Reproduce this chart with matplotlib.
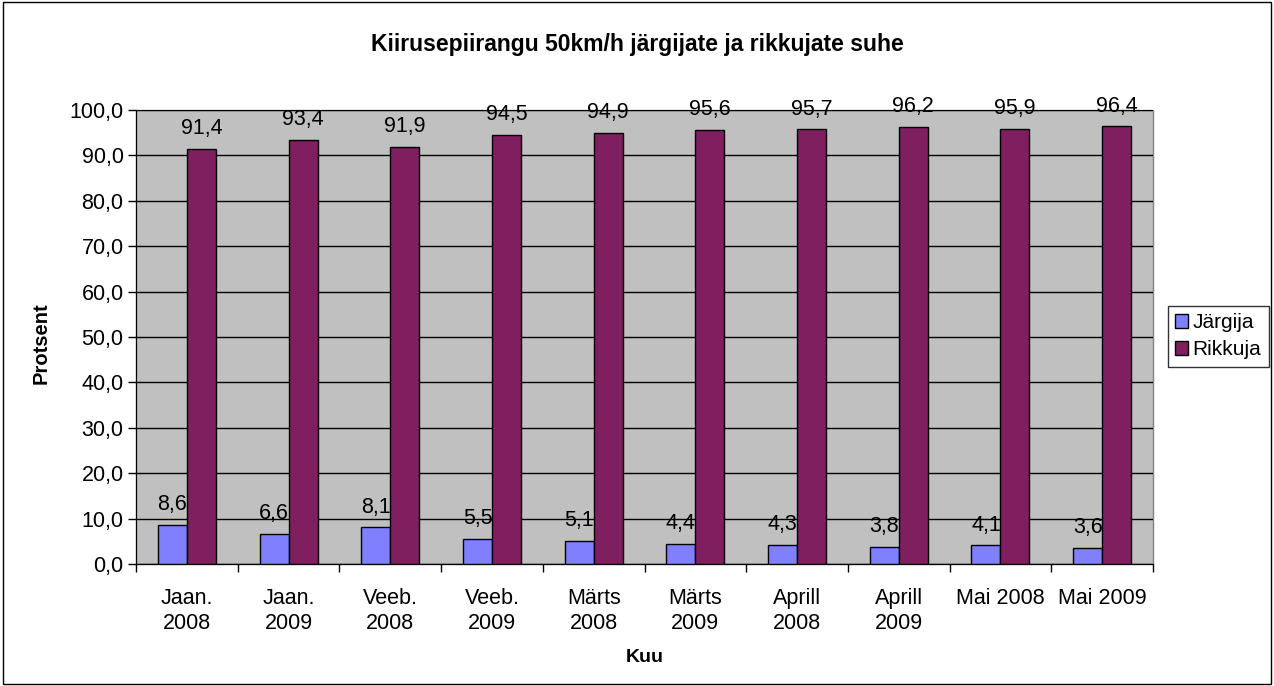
import matplotlib.pyplot as plt
from matplotlib.patches import Rectangle
from matplotlib.ticker import FuncFormatter, FixedLocator
import numpy as np

plt.rcParams['font.family'] = ['Liberation Sans', 'DejaVu Sans']

months = ["Jaan.\n2008", "Jaan.\n2009", "Veeb.\n2008", "Veeb.\n2009", "Märts\n2008",
          "Märts\n2009", "Aprill\n2008", "Aprill\n2009", "Mai 2008", "Mai 2009"]
jargija = [8.6, 6.6, 8.1, 5.5, 5.1, 4.4, 4.3, 3.8, 4.1, 3.6]
rikkuja = [91.4, 93.4, 91.9, 94.5, 94.9, 95.6, 95.7, 96.2, 95.9, 96.4]


def comma(v):
    return f"{v:.1f}".replace(".", ",")


fig = plt.figure(figsize=(12.74, 6.86), dpi=100)
fig.patches.append(Rectangle((0.002, 0.003), 0.996, 0.994, transform=fig.transFigure,
                             fill=False, edgecolor="black", linewidth=1))
ax = fig.add_axes([0.1068, 0.1778, 0.7982, 0.6619])
ax.set_facecolor("#c0c0c0")

x = np.arange(len(months))
w = 0.285
b1 = ax.bar(x - w / 2, jargija, w, color="#8080ff", edgecolor="black", linewidth=1,
            label="Järgija", zorder=3)
b2 = ax.bar(x + w / 2, rikkuja, w, color="#7f1f5f", edgecolor="black", linewidth=1,
            label="Rikkuja", zorder=3)

for bars in (b1, b2):
    for r in bars:
        h = r.get_height()
        ax.annotate(comma(h), (r.get_x() + r.get_width() / 2, h), xytext=(0, 7),
                    textcoords="offset points", ha="center", va="bottom", fontsize=15.5)

ax.set_xlim(-0.5, len(months) - 0.5)
ax.set_ylim(0, 100)
ax.set_yticks(np.arange(0, 101, 10))
ax.yaxis.set_major_formatter(FuncFormatter(lambda v, p: comma(v)))
ax.grid(axis="y", color="black", linewidth=1, zorder=1)
ax.set_axisbelow(True)

ax.set_xticks(x)
ax.set_xticklabels(months, fontsize=15.5, linespacing=1.25)
ax.xaxis.set_minor_locator(FixedLocator(np.arange(-0.5, len(months), 1)))
ax.tick_params(axis="x", which="major", length=0, pad=17)
ax.tick_params(axis="x", which="minor", length=6, width=1, direction="out")
ax.tick_params(axis="y", length=6, width=1, labelsize=15.5, direction="out", pad=3)

for s in ["top", "right"]:
    ax.spines[s].set_visible(False)
ax.spines["left"].set_color("black")
ax.spines["bottom"].set_color("black")
# plot area border (gray)
ax.add_patch(Rectangle((0, 0), 1, 1, transform=ax.transAxes, fill=False,
                       edgecolor="#808080", linewidth=1, zorder=0.5, clip_on=False))

fig.text(0.5, 0.935, "Kiirusepiirangu 50km/h järgijate ja rikkujate suhe",
         ha="center", va="center", fontsize=16.5, fontweight="bold")
fig.text(0.032, 0.5, "Protsent", rotation=90, ha="center", va="center",
         fontsize=14.5, fontweight="bold")
fig.text(0.506, 0.041, "Kuu", ha="center", va="center", fontsize=14, fontweight="bold")

leg = fig.legend(loc="center left", bbox_to_anchor=(0.9165, 0.51), fontsize=15,
                 frameon=True, fancybox=False, edgecolor="black", handlelength=0.65,
                 handleheight=0.65, handletextpad=0.2, borderpad=0.35, labelspacing=0.4,
                 borderaxespad=0)
leg.get_frame().set_linewidth(1)

fig.savefig("out.png", dpi=100)
